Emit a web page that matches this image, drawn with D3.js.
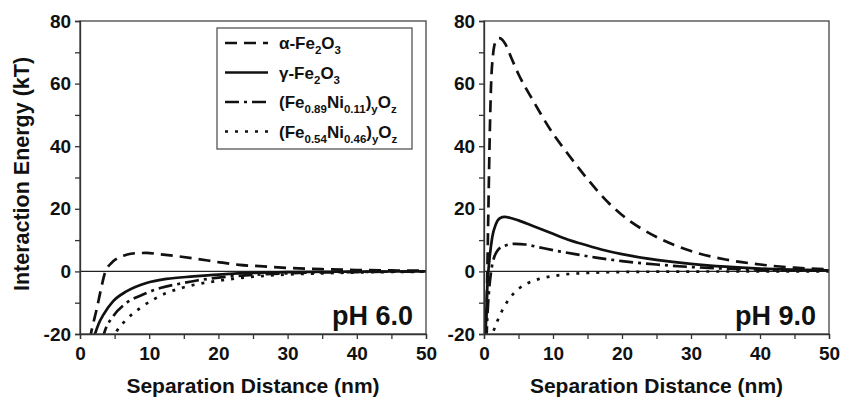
<!DOCTYPE html>
<html lang="en">
<head>
<meta charset="utf-8">
<title>Interaction energy</title>
<script src="https://d3js.org/d3.v7.min.js"></script>
<style>
  body { margin: 0; background: #fff; }
  svg text { font-family: "Liberation Sans", Arial, sans-serif; font-weight: bold; fill: #111; }
</style>
</head>
<body>
<div id="chart"></div>
<script>
// x-ticks and y-ticks
var xTicks = [0, 10, 20, 30, 40, 50];
var yTicks = [-20, 0, 20, 40, 60, 80];

// pH 6.0 curves, [distance nm, energy kT]
var ph6Alpha = [[1.4,-22],[1.7,-18.6],[2.4,-12.2],[3,-6],[3.6,-0.5],[4.6,2.8],[5.5,4.3],[6.7,5.3],[8,5.8],[9.6,5.9],[11.5,5.5],[13.5,5],[16.9,4],[20.2,2.9],[23,2.1],[26.5,1.6],[30,1.1],[35,0.7],[40,0.45],[45,0.3],[50,0.2]];
var ph6Gamma = [[1.9,-22],[2.17,-20],[2.7,-16.7],[3.37,-13.9],[4.8,-9.5],[6.7,-6.4],[9.6,-3.7],[12.5,-2.4],[16.4,-1.6],[20,-1.0],[25,-0.5],[30,-0.25],[40,-0.08],[50,0]];
var ph6Fe89 = [[3.2,-22],[3.6,-19],[4.8,-14.3],[6.7,-10.1],[9.1,-7.4],[11.6,-5.3],[14.5,-3.9],[16.9,-2.9],[20,-2],[25,-1.1],[30,-0.6],[40,-0.2],[50,-0.06]];
var ph6Fe54 = [[4.6,-22],[5.3,-19.1],[6.7,-15.4],[8.7,-11.7],[10.6,-9],[12.5,-6.9],[14.5,-5.4],[16.9,-4.1],[20,-3],[25,-1.7],[30,-1],[35,-0.6],[40,-0.35],[50,-0.1]];

// pH 9.0 curves
var ph9Alpha = [[0.25,-22],[0.4,-10],[0.6,15],[0.8,40],[1,58],[1.3,69],[1.7,73.5],[2.2,74.5],[3,73],[4,68],[5,63],[7,55],[10,44],[12,38],[15,29.5],[18,22],[20,18],[25,11],[30,6.5],[35,3.8],[40,2.2],[45,1.2],[50,0.7]];
var ph9Gamma = [[0.2,-22],[0.35,-12],[0.5,-4],[0.8,4],[1.2,11],[1.7,15],[2.3,17],[3,17.4],[4,17],[5,16.3],[7,14.6],[10,12],[12,10.3],[14,8.9],[17,7],[20,5.5],[25,3.7],[30,2.4],[35,1.5],[40,0.9],[45,0.55],[50,0.3]];
var ph9Fe89 = [[0.35,-22],[0.5,-14],[0.7,-7],[1,-0.5],[1.4,4],[2,6.8],[3,8.2],[4.5,8.8],[6,8.6],[8,7.7],[10,6.8],[13,5.6],[16,4.5],[20,3.3],[25,2.2],[30,1.4],[35,0.9],[40,0.55],[45,0.3],[50,0.2]];
var ph9Fe54 = [[0.9,-22],[1.3,-19.5],[2,-15.5],[3,-11],[4,-7.8],[5,-5.6],[6.5,-3.6],[8,-2.4],[10,-1.5],[12,-0.9],[15,-0.5],[20,-0.2],[30,-0.05],[50,0]];

var seriesNames = ["α-Fe2O3", "γ-Fe2O3", "(Fe0.89Ni0.11)yOz", "(Fe0.54Ni0.46)yOz"];
var dashes = ["12,7", null, "14,5,3,5", "3,7"];

var width = 841, height = 401;
var svg = d3.select("#chart").append("svg")
  .attr("width", width).attr("height", height);

var yScale = d3.scaleLinear().domain([-20, 80]).range([334, 21]);

function panel(left, right, curves, label, id) {
  var x = d3.scaleLinear().domain([0, 50]).range([left, right]);

  svg.append("clipPath").attr("id", id)
    .append("rect").attr("x", left).attr("y", 21)
    .attr("width", right - left).attr("height", 313);

  // zero line
  svg.append("line")
    .attr("x1", left).attr("x2", right)
    .attr("y1", yScale(0)).attr("y2", yScale(0))
    .attr("stroke", "#222").attr("stroke-width", 1.2);

  var line = d3.line().curve(d3.curveMonotoneX)
    .x(function(d) { return x(d[0]); })
    .y(function(d) { return yScale(d[1]); });

  curves.forEach(function(c, i) {
    svg.append("path")
      .datum(c)
      .attr("clip-path", "url(#" + id + ")")
      .attr("fill", "none")
      .attr("stroke", "#111")
      .attr("stroke-width", 2.7)
      .attr("stroke-dasharray", dashes[i])
      .attr("d", line);
  });

  // frame
  svg.append("rect")
    .attr("x", left).attr("y", 21)
    .attr("width", right - left).attr("height", 313)
    .attr("fill", "none").attr("stroke", "#444").attr("stroke-width", 1.3);

  var xAxis = svg.append("g")
    .attr("transform", "translate(0,334)")
    .call(d3.axisBottom(x).tickValues(d3.range(0, 51, 5)).tickSize(5)
      .tickFormat(function(d) { return xTicks.indexOf(d) >= 0 ? d : ""; }));
  var yAxis = svg.append("g")
    .attr("transform", "translate(" + left + ",0)")
    .call(d3.axisLeft(yScale).tickValues(d3.range(-20, 81, 10)).tickSize(5)
      .tickFormat(function(d) { return yTicks.indexOf(d) >= 0 ? d : ""; }));
  [xAxis, yAxis].forEach(function(a) {
    a.select(".domain").attr("stroke", "#333").attr("stroke-width", 1.3);
    a.selectAll(".tick line").attr("stroke", "#333").attr("stroke-width", 1.3);
    a.selectAll(".tick text").attr("font-size", 19).attr("fill", "#111")
      .attr("font-family", "Liberation Sans, Arial, sans-serif").attr("font-weight", "bold");
  });
  xAxis.selectAll(".tick text").attr("dy", "0.95em");
  yAxis.selectAll(".tick text").attr("dx", "-0.05em");

  svg.append("text")
    .attr("x", (left + right) / 2).attr("y", 393)
    .attr("text-anchor", "middle").attr("font-size", 21)
    .text("Separation Distance (nm)");

  svg.append("text")
    .attr("x", right - 13).attr("y", 325)
    .attr("text-anchor", "end").attr("font-size", 27)
    .text(label);
}

panel(80, 426, [ph6Alpha, ph6Gamma, ph6Fe89, ph6Fe54], "pH 6.0", "clipL");
panel(484, 829, [ph9Alpha, ph9Gamma, ph9Fe89, ph9Fe54], "pH 9.0", "clipR");

svg.append("text")
  .attr("transform", "translate(29,174) rotate(-90)")
  .attr("text-anchor", "middle").attr("font-size", 21.5)
  .text("Interaction Energy (kT)");

// legend
var lg = svg.append("g");
lg.append("rect").attr("x", 217).attr("y", 28).attr("width", 195).attr("height", 121)
  .attr("fill", "#fff").attr("stroke", "#555").attr("stroke-width", 1.3);

var legendParts = [
  [["α-Fe", 0], ["2", 1], ["O", 0], ["3", 1]],
  [["γ-Fe", 0], ["2", 1], ["O", 0], ["3", 1]],
  [["(Fe", 0], ["0.89", 1], ["Ni", 0], ["0.11", 1], [")", 0], ["y", 1], ["O", 0], ["z", 1]],
  [["(Fe", 0], ["0.54", 1], ["Ni", 0], ["0.46", 1], [")", 0], ["y", 1], ["O", 0], ["z", 1]]
];
seriesNames.forEach(function(name, i) {
  var cy = 43 + i * 29.5;
  lg.append("line")
    .attr("x1", 225).attr("x2", 268).attr("y1", cy).attr("y2", cy)
    .attr("stroke", "#111").attr("stroke-width", 2.7)
    .attr("stroke-dasharray", dashes[i]);
  var t = lg.append("text").attr("x", 279).attr("y", cy + 6).attr("font-size", 17);
  var sub = false;
  legendParts[i].forEach(function(p) {
    var ts = t.append("tspan").text(p[0]);
    if (p[1] && !sub) { ts.attr("dy", 5).attr("font-size", 11.5); sub = true; }
    else if (p[1]) { ts.attr("font-size", 11.5); }
    else if (sub) { ts.attr("dy", -5); sub = false; }
  });
});
</script>
</body>
</html>
